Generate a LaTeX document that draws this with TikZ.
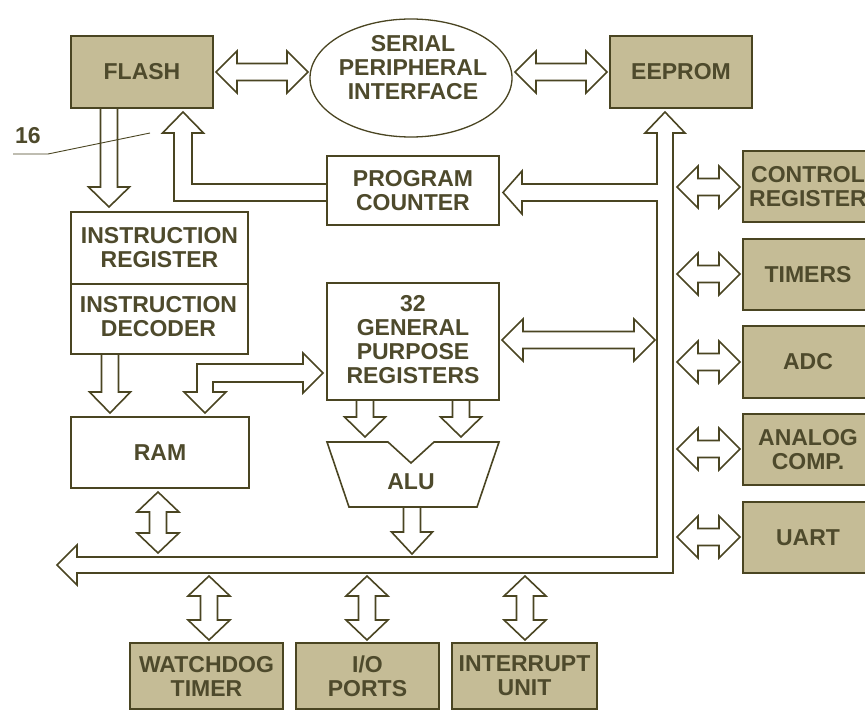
\documentclass[tikz,border=0pt]{standalone}
\usepackage{fontspec}
\setmainfont{Liberation Sans}
\usetikzlibrary{shapes.geometric}
\definecolor{lineol}{HTML}{4A4522}
\definecolor{tanfill}{HTML}{C5BC96}
\definecolor{txtcol}{HTML}{4E4A2C}
\newcommand\hdarr[3]{\draw[blk] (#1,#3) -- (#1+21,#3-21) -- (#1+21,#3-8.5) -- (#2-21,#3-8.5) -- (#2-21,#3-21) -- (#2,#3) -- (#2-21,#3+21) -- (#2-21,#3+8.5) -- (#1+21,#3+8.5) -- (#1+21,#3+21) -- cycle;}
\newcommand\vdarr[3]{\draw[blk] (#1,#2) -- (#1+21,#2+20) -- (#1+8.5,#2+20) -- (#1+8.5,#3-20) -- (#1+21,#3-20) -- (#1,#3) -- (#1-21,#3-20) -- (#1-8.5,#3-20) -- (#1-8.5,#2+20) -- (#1-21,#2+20) -- cycle;}
\newcommand\dnarr[4]{\draw[blk] (#1-8.5,#2) -- (#1-8.5,#3) -- (#1-20.5,#3) -- (#1,#4) -- (#1+20.5,#3) -- (#1+8.5,#3) -- (#1+8.5,#2);}
\begin{document}
\begin{tikzpicture}[x=1pt,y=-1pt,
  lbl/.style={font=\bfseries\fontsize{23}{24}\selectfont, text=txtcol, align=center, inner sep=0pt},
  tanbox/.style={draw=lineol, fill=tanfill, line width=1.8pt, inner sep=0pt},
  whitebox/.style={draw=lineol, fill=white, line width=1.6pt, inner sep=0pt},
  blk/.style={draw=lineol, fill=white, line width=1.6pt, line join=miter}]
\useasboundingbox (0,0) rectangle (865,711);
\clip (0,0) rectangle (865,711);

% main bus
\draw[blk] (665,112) -- (685,133) -- (673,133) -- (673,573) -- (77,573) -- (77,585) -- (57,565)
  -- (77,545) -- (77,557) -- (657,557) -- (657,201) -- (522,201) -- (522,214) -- (503,192.5)
  -- (522,171) -- (522,184) -- (657,184) -- (657,133) -- (645,133) -- cycle;

% program counter to flash
\draw[blk] (327,184) -- (192,184) -- (192,133) -- (203.5,133) -- (183,112) -- (162.5,133)
  -- (174,133) -- (174,201) -- (327,201);

% registers <-> RAM
\draw[blk] (323,373) -- (303,393) -- (303,382) -- (213,382) -- (213,392) -- (226,392) -- (205,413)
  -- (184,392) -- (197,392) -- (197,364) -- (303,364) -- (303,353) -- cycle;

% block arrows
\hdarr{216}{308}{72}
\hdarr{515}{607}{72}
\hdarr{677}{740}{187}
\hdarr{677}{740}{274}
\hdarr{677}{740}{362}
\hdarr{677}{740}{449}
\hdarr{677}{740}{537}
\hdarr{502}{655}{340}
\vdarr{158}{492}{553}
\vdarr{209}{576}{640}
\vdarr{367}{576}{640}
\vdarr{525}{576}{640}
\dnarr{109}{108}{187}{207}
\dnarr{110}{354}{392}{413}
\dnarr{365}{400}{417}{437}
\dnarr{461}{400}{417}{437}
\dnarr{412}{507}{532}{554}

% tan boxes
\node[tanbox, minimum width=142pt, minimum height=72pt] (flash) at (142,72) {};
\node[lbl] at (flash) {FLASH};
\node[tanbox, minimum width=142pt, minimum height=72pt] (eeprom) at (681,72) {};
\node[lbl] at (eeprom) {EEPROM};
\node[tanbox, minimum width=130pt, minimum height=71pt] (ctrl) at (808,186.5) {};
\node[lbl] at (ctrl) {CONTROL\\REGISTER};
\node[tanbox, minimum width=130pt, minimum height=71pt] (timers) at (808,274.5) {};
\node[lbl] at (timers) {TIMERS};
\node[tanbox, minimum width=130pt, minimum height=72pt] (adc) at (808,362) {};
\node[lbl] at (adc) {ADC};
\node[tanbox, minimum width=130pt, minimum height=71pt] (acomp) at (808,449.5) {};
\node[lbl] at (acomp) {ANALOG\\COMP.};
\node[tanbox, minimum width=130pt, minimum height=71pt] (uart) at (808,537.5) {};
\node[lbl] at (uart) {UART};
\node[tanbox, minimum width=153pt, minimum height=66pt] (wdt) at (206.5,676) {};
\node[lbl] at (wdt) {WATCHDOG\\TIMER};
\node[tanbox, minimum width=143pt, minimum height=66pt] (io) at (367.5,676) {};
\node[lbl] at (io) {I/O\\PORTS};
\node[tanbox, minimum width=145pt, minimum height=66pt] (intr) at (524.5,676) {};
\node[lbl] at (intr) {INTERRUPT\\UNIT};

% white boxes
\node[whitebox, minimum width=172pt, minimum height=69pt] (pc) at (413,190.5) {};
\node[lbl] at (pc) {PROGRAM\\COUNTER};
\node[whitebox, minimum width=177pt, minimum height=72pt] (ir) at (159.5,248) {};
\node[lbl] at (ir) {INSTRUCTION\\REGISTER};
\node[whitebox, minimum width=177pt, minimum height=70pt] (id) at (159.5,319) {};
\node[lbl] at (158.5,317) {INSTRUCTION\\DECODER};
\node[whitebox, minimum width=178pt, minimum height=71pt] (ram) at (160,452.5) {};
\node[lbl] at (ram) {RAM};
\node[whitebox, minimum width=172pt, minimum height=117pt] (gpr) at (413,341.5) {};
\node[lbl] at (413,340) {32\\GENERAL\\PURPOSE\\REGISTERS};

% ALU
\draw[whitebox] (327,442) -- (388,442) -- (411,463) -- (434,442) -- (499,442) -- (477,507) -- (349,507) -- cycle;
\node[lbl] (alu) at (411,482) {ALU};

% SPI ellipse
\node[draw=lineol, line width=1.3pt, fill=white, ellipse, minimum width=202pt, minimum height=118pt, inner sep=0pt] (spi) at (411,78) {};
\node[lbl] at (413,68) {SERIAL\\PERIPHERAL\\INTERFACE};

% label 16
\node[lbl] (n16) at (28,136) {16};
\draw[lineol, line width=0.9pt] (13,154) -- (48,154) -- (150,133);
\end{tikzpicture}
\end{document}
